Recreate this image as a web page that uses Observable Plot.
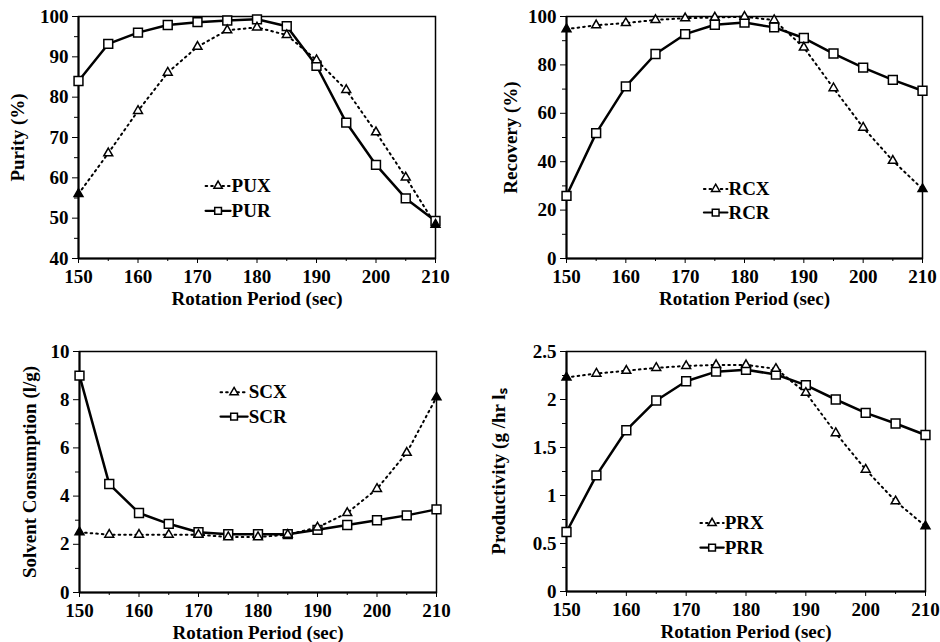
<!DOCTYPE html>
<html>
<head>
<meta charset="utf-8">
<script src="https://cdn.jsdelivr.net/npm/d3@7"></script>
<script src="https://cdn.jsdelivr.net/npm/@observablehq/plot@0.6"></script>
<style>
  body { margin: 0; background: #fff; }
  #grid { display: grid; grid-template-columns: 470px 470px; grid-template-rows: 321px 321px; width: 940px; height: 642px; }
  #grid svg { display: block; }
</style>
</head>
<body>
<div id="grid"></div>
<script>
// ---- data ----
const period = [150, 155, 160, 165, 170, 175, 180, 185, 190, 195, 200, 205, 210];

const PUX = [56.0, 66.1, 76.6, 86.1, 92.5, 96.6, 97.3, 95.4, 89.2, 81.8, 71.3, 60.1, 48.4];
const PUR = [84.0, 93.2, 96.0, 97.9, 98.6, 99.0, 99.3, 97.6, 87.8, 73.7, 63.2, 54.9, 49.3];

const RCX = [94.8, 96.4, 97.3, 98.6, 99.3, 99.6, 99.9, 98.5, 87.2, 70.4, 54.1, 40.4, 28.7];
const RCR = [25.9, 51.8, 71.1, 84.5, 92.7, 96.6, 97.5, 95.5, 91.1, 84.7, 78.9, 73.8, 69.3];

const SCX = [2.5, 2.4, 2.4, 2.4, 2.4, 2.3, 2.3, 2.4, 2.7, 3.3, 4.3, 5.8, 8.1];
const SCR = [9.0, 4.5, 3.3, 2.85, 2.5, 2.42, 2.42, 2.42, 2.6, 2.8, 3.0, 3.2, 3.45];

const PRX = [2.23, 2.27, 2.30, 2.33, 2.35, 2.36, 2.36, 2.32, 2.07, 1.65, 1.27, 0.94, 0.68];
const PRR = [0.62, 1.21, 1.68, 1.99, 2.19, 2.29, 2.31, 2.26, 2.15, 2.00, 1.86, 1.75, 1.63];

const xTicks = [150, 160, 170, 180, 190, 200, 210];
const xMinor = [155, 165, 175, 185, 195, 205];
const xLabel = "Rotation Period (sec)";

// ---- panel layout (styles / positions only) ----
const panels = [
  {xs: PUX, rs: PUR, names: ["PUX", "PUR"], ylabel: "Purity (%)",
   domain: [40, 100], major: [40, 50, 60, 70, 80, 90, 100], minor: [45, 55, 65, 75, 85, 95],
   m: {top: 16, right: 35, bottom: 63, left: 78}, yOff: 68, xOff: 46,
   leg: [0.356, 0.426, 0.30, 0.197]},
  {xs: RCX, rs: RCR, names: ["RCX", "RCR"], ylabel: "Recovery (%)",
   domain: [0, 100], major: [0, 20, 40, 60, 80, 100], minor: [10, 30, 50, 70, 90],
   m: {top: 16, right: 18, bottom: 63, left: 96}, yOff: 63, xOff: 46,
   leg: [0.386, 0.452, 0.287, 0.19]},
  {xs: SCX, rs: SCR, names: ["SCX", "SCR"], ylabel: "Solvent Consumption (l/g)",
   domain: [0, 10], major: [0, 2, 4, 6, 8, 10], minor: [1, 3, 5, 7, 9],
   m: {top: 30, right: 34, bottom: 50, left: 79}, yOff: 57, xOff: 46,
   leg: [0.395, 0.471, 0.831, 0.730]},
  {xs: PRX, rs: PRR, names: ["PRX", "PRR"], ylabel: "Productivity (g /hr lₛ",
   domain: [0, 2.5], major: [0, 0.5, 1, 1.5, 2, 2.5], minor: [0.25, 0.75, 1.25, 1.75, 2.25],
   m: {top: 30, right: 15, bottom: 51, left: 96}, yOff: 75, xOff: 46,
   leg: [0.373, 0.438, 0.285, 0.183]}
];

const dash = "1.6,4";

function panel(c) {
  const [x0, x1] = [150, 210];
  const [y0, y1] = c.domain;
  const lx = f => x0 + f * (x1 - x0);
  const ly = f => y0 + f * (y1 - y0);
  const sX = period.map((p, i) => ({x: p, y: c.xs[i]}));
  const sR = period.map((p, i) => ({x: p, y: c.rs[i]}));
  const ends = d => d.x === x0 || d.x === x1;
  const [a, b, ya, yb] = c.leg;
  const legX = [{x: lx(a), y: ly(ya)}, {x: lx(b), y: ly(ya)}];
  const legR = [{x: lx(a), y: ly(yb)}, {x: lx(b), y: ly(yb)}];
  const mid = (p) => [{x: (p[0].x + p[1].x) / 2, y: p[0].y}];

  return Plot.plot({
    width: 470, height: 321,
    marginTop: c.m.top, marginRight: c.m.right, marginBottom: c.m.bottom, marginLeft: c.m.left,
    style: {fontFamily: "'Liberation Serif', 'Times New Roman', serif", fontWeight: "bold", fontSize: "18px", background: "white", color: "black"},
    x: {domain: [x0, x1]},
    y: {domain: c.domain},
    marks: [
      Plot.frame({stroke: "black", strokeWidth: 1.5}),
      Plot.ruleX([x0], {stroke: "black", strokeWidth: 2}),
      Plot.ruleY([y0], {stroke: "black", strokeWidth: 2}),
      Plot.axisY({ticks: c.major, tickSize: 6, tickPadding: 4, tickFormat: d3.format("~g"), fontSize: 19,
        label: c.ylabel, labelAnchor: "center", labelOffset: c.yOff, labelArrow: "none"}),
      Plot.axisY({ticks: c.minor, tickSize: 4, tickFormat: () => "", label: null}),
      Plot.axisX({ticks: xTicks, tickSize: 5, tickPadding: 6, tickFormat: d3.format("d"), fontSize: 19,
        label: xLabel, labelAnchor: "center", labelOffset: c.xOff, labelArrow: "none"}),
      Plot.axisX({ticks: xMinor, tickSize: 3, tickFormat: () => "", label: null}),
      // X series (dotted, triangles)
      Plot.line(sX, {x: "x", y: "y", stroke: "black", strokeWidth: 2, strokeDasharray: dash}),
      // R series (solid, squares)
      Plot.line(sR, {x: "x", y: "y", stroke: "black", strokeWidth: 2.5}),
      Plot.dot(sR, {x: "x", y: "y", symbol: "square", r: 5, fill: "white", stroke: "black", strokeWidth: 1.5}),
      Plot.dot(sX, {filter: d => !ends(d), x: "x", y: "y", symbol: "triangle", r: 3.3, fill: "white", stroke: "black", strokeWidth: 1.5}),
      Plot.dot(sX, {filter: ends, x: "x", y: "y", symbol: "triangle", r: 3.3, fill: "black", stroke: "black", strokeWidth: 1.5}),
      // legend
      Plot.line(legX, {x: "x", y: "y", stroke: "black", strokeWidth: 2, strokeDasharray: dash}),
      Plot.dot(mid(legX), {x: "x", y: "y", symbol: "triangle", r: 3.1, fill: "white", stroke: "black", strokeWidth: 1.5}),
      Plot.text([c.names[0]], {x: lx(b), y: ly(ya), text: d => d, textAnchor: "start", dx: 1, fontSize: 19}),
      Plot.line(legR, {x: "x", y: "y", stroke: "black", strokeWidth: 2.2}),
      Plot.dot(mid(legR), {x: "x", y: "y", symbol: "square", r: 3.8, fill: "white", stroke: "black", strokeWidth: 1.5}),
      Plot.text([c.names[1]], {x: lx(b), y: ly(yb), text: d => d, textAnchor: "start", dx: 1, fontSize: 19})
    ]
  });
}

const grid = document.getElementById("grid");
for (const c of panels) grid.appendChild(panel(c));
</script>
</body>
</html>
